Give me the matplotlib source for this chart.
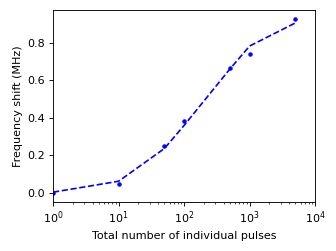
import matplotlib
matplotlib.use("Agg")
import matplotlib.pyplot as plt

# measured points
pulses = [1, 10, 50, 100, 500, 1000, 5000]
shift = [0.0, 0.048, 0.252, 0.385, 0.665, 0.738, 0.927]

# dashed trend line
fit_shift = [0.005, 0.063, 0.237, 0.36, 0.66, 0.782, 0.905]

fig = plt.figure(figsize=(336 / 80, 251 / 80), dpi=80)
ax = fig.add_axes([0.158, 0.196, 0.78, 0.764])

ax.plot(pulses, shift, 'b.', markersize=6)
ax.plot(pulses, fit_shift, 'b--')
ax.set_xscale('log')
ax.set_xlim(1, 1e4)
ax.set_xlabel('Total number of individual pulses')
ax.set_ylabel('Frequency shift (MHz)')

fig.savefig('out.png', dpi=80)
